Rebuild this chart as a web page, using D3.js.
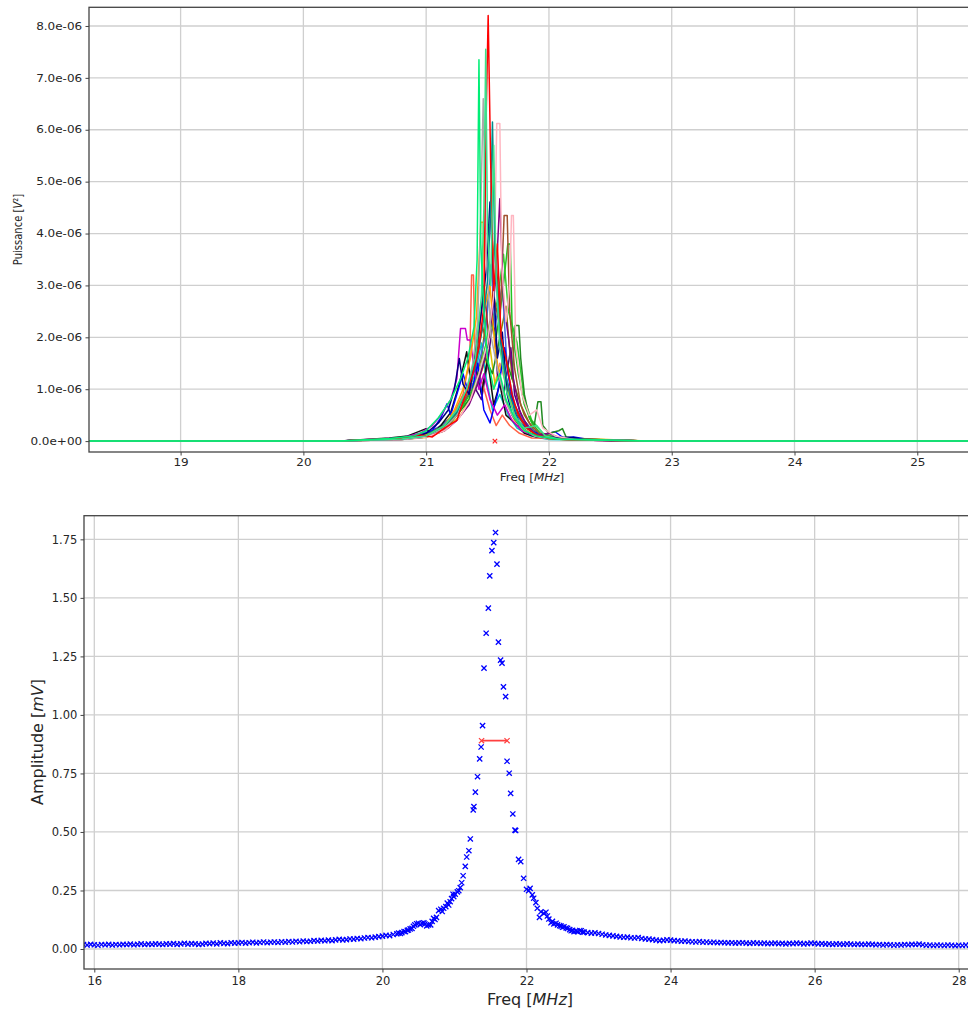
<!DOCTYPE html>
<html><head><meta charset="utf-8">
<script src="https://cdn.jsdelivr.net/npm/d3@7"></script>
<style>
body{margin:0;background:#fff}
svg{display:block}
text{font-family:"DejaVu Sans",sans-serif;fill:#262626}
</style>
</head><body>
<svg id="c" width="968" height="1009"></svg>
<script>
// ================= DATA =================
// ---- Top chart: power spectra (values in µV², i.e. ×1e-6 V²) ----
const topXTicks = [19, 20, 21, 22, 23, 24, 25];
const topYTicks = [0, 1e-6, 2e-6, 3e-6, 4e-6, 5e-6, 6e-6, 7e-6, 8e-6];
const topYTickLabels = ["0.0e+00","1.0e-06","2.0e-06","3.0e-06","4.0e-06","5.0e-06","6.0e-06","7.0e-06","8.0e-06"];

const specBlack = [[18.25,0],[20.3,0],[20.5,0.03],[20.7,0.06],[20.85,0.1],[21.0,0.24],[21.05,0.12],[21.12,0.3],[21.2,0.55],[21.27,1.1],[21.33,1.72],[21.36,1.2],[21.4,1.45],[21.45,0.9],[21.5,1.6],[21.55,0.7],[21.6,1.1],[21.65,0.5],[21.72,0.35],[21.8,0.15],[21.9,0.08],[22.05,0.04],[22.3,0.02],[22.8,0],[25.5,0]];
const specBlue = [[18.25,0],[20.3,0],[20.6,0.03],[20.8,0.05],[20.95,0.1],[21.05,0.2],[21.12,0.45],[21.17,0.72],[21.2,0.5],[21.25,0.9],[21.3,1.3],[21.36,0.8],[21.42,1.5],[21.47,0.6],[21.52,0.35],[21.58,0.9],[21.64,1.8],[21.68,1.1],[21.72,0.6],[21.76,0.35],[21.85,0.2],[21.95,0.12],[22.05,0.18],[22.12,0.06],[22.2,0.08],[22.35,0.02],[22.8,0],[25.5,0]];
const specNavy = [[18.25,0],[20.3,0],[20.7,0.04],[20.9,0.08],[21.0,0.15],[21.1,0.35],[21.18,0.6],[21.23,1.0],[21.27,1.59],[21.3,1.1],[21.35,0.9],[21.4,1.7],[21.45,2.5],[21.49,3.3],[21.52,4.61],[21.55,3.0],[21.58,1.6],[21.62,2.1],[21.66,0.9],[21.7,0.5],[21.76,0.3],[21.84,0.15],[21.95,0.08],[22.2,0.07],[22.3,0.02],[22.8,0],[25.5,0]];
const specPurple = [[18.25,0],[20.3,0],[20.8,0.03],[21.0,0.08],[21.15,0.2],[21.25,0.4],[21.35,0.7],[21.42,1.1],[21.48,1.6],[21.53,2.3],[21.57,3.2],[21.6,4.67],[21.63,2.7],[21.67,2.0],[21.71,1.2],[21.76,0.6],[21.82,0.3],[21.9,0.12],[22.0,0.15],[22.1,0.05],[22.4,0.01],[22.8,0],[25.5,0]];
const specMagenta = [[18.25,0],[20.3,0],[20.6,0.04],[20.8,0.06],[20.95,0.15],[21.05,0.3],[21.12,0.5],[21.2,0.8],[21.25,1.2],[21.28,2.17],[21.32,2.17],[21.335,1.95],[21.36,1.95],[21.39,1.4],[21.43,1.0],[21.47,1.3],[21.52,0.8],[21.58,0.5],[21.64,0.7],[21.7,0.4],[21.78,0.2],[21.88,0.1],[22.0,0.05],[22.15,0.04],[22.8,0],[25.5,0]];
const specBrown = [[18.25,0],[20.3,0],[20.8,0.04],[21.0,0.1],[21.15,0.25],[21.25,0.5],[21.33,0.9],[21.4,1.5],[21.46,2.2],[21.5,1.8],[21.55,2.8],[21.6,2.2],[21.635,4.35],[21.66,4.35],[21.68,2.5],[21.72,1.4],[21.77,0.7],[21.84,0.35],[21.92,0.15],[22.05,0.05],[22.8,0],[25.5,0]];
const specOrange = [[18.25,0],[20.3,0],[20.7,0.03],[20.9,0.06],[21.05,0.15],[21.15,0.3],[21.23,0.6],[21.3,1.0],[21.36,1.6],[21.41,2.4],[21.445,4.22],[21.465,4.22],[21.48,2.6],[21.52,3.0],[21.56,1.8],[21.6,1.2],[21.66,0.7],[21.72,0.4],[21.8,0.2],[21.9,0.1],[22.1,0.03],[22.8,0],[25.5,0]];
const specPink = [[18.25,0],[20.3,0],[20.8,0.03],[21.0,0.08],[21.15,0.2],[21.27,0.45],[21.36,0.8],[21.43,1.3],[21.5,1.9],[21.55,2.8],[21.575,6.12],[21.6,6.12],[21.615,3.4],[21.65,2.3],[21.68,3.0],[21.695,4.35],[21.71,4.35],[21.73,1.8],[21.78,0.9],[21.84,0.5],[21.9,0.6],[21.95,0.25],[22.05,0.1],[22.2,0.03],[22.8,0],[25.5,0]];
const specTeal = [[18.25,0],[20.3,0],[20.8,0.04],[21.0,0.1],[21.15,0.3],[21.25,0.55],[21.33,1.0],[21.4,1.4],[21.46,2.2],[21.5,3.1],[21.525,4.5],[21.54,6.15],[21.56,3.6],[21.59,2.4],[21.63,1.5],[21.68,0.9],[21.74,0.5],[21.82,0.25],[21.92,0.1],[22.05,0.04],[22.8,0],[25.5,0]];
const specGrey = [[18.25,0],[20.3,0],[20.8,0.04],[21.0,0.1],[21.15,0.25],[21.25,0.5],[21.32,0.9],[21.38,1.5],[21.42,2.3],[21.44,4.0],[21.465,6.6],[21.49,3.5],[21.53,2.0],[21.58,1.4],[21.64,0.8],[21.7,0.5],[21.78,0.25],[21.88,0.1],[22.0,0.04],[22.8,0],[25.5,0]];
const specDarkGreen = [[18.25,0],[20.3,0],[20.7,0.04],[20.9,0.07],[21.05,0.15],[21.15,0.3],[21.25,0.5],[21.35,0.8],[21.42,1.2],[21.48,1.6],[21.54,1.3],[21.6,2.0],[21.66,1.5],[21.7,1.2],[21.725,2.23],[21.755,2.23],[21.77,1.6],[21.8,0.9],[21.84,0.45],[21.88,0.3],[21.91,0.76],[21.935,0.76],[21.95,0.3],[22.0,0.15],[22.08,0.2],[22.11,0.24],[22.14,0.08],[22.25,0.04],[22.4,0.02],[22.8,0],[25.5,0]];
const specGreen = [[18.25,0],[20.3,0],[20.8,0.04],[21.0,0.12],[21.15,0.3],[21.28,0.6],[21.38,1.0],[21.46,1.5],[21.52,2.3],[21.57,2.0],[21.62,2.8],[21.665,3.8],[21.685,3.8],[21.7,2.2],[21.75,1.3],[21.8,0.7],[21.86,0.35],[21.93,0.15],[22.05,0.05],[22.8,0],[25.5,0]];
const specCyan = [[18.25,0],[20.3,0],[20.8,0.03],[21.0,0.08],[21.15,0.25],[21.25,0.6],[21.33,0.9],[21.4,1.3],[21.45,1.89],[21.49,1.2],[21.54,0.6],[21.6,0.9],[21.67,0.5],[21.74,0.25],[21.85,0.1],[22.0,0.03],[22.8,0],[25.5,0]];
const specTomato = [[18.25,0],[20.3,0],[20.8,0.04],[21.0,0.12],[21.12,0.25],[21.22,0.5],[21.3,0.9],[21.355,1.6],[21.37,3.2],[21.385,3.2],[21.4,1.5],[21.46,1.1],[21.52,0.6],[21.57,0.3],[21.62,0.5],[21.68,0.3],[21.76,0.15],[21.86,0.06],[22.8,0],[25.5,0]];
const specGold = [[18.25,0],[20.3,0],[20.8,0.03],[21.0,0.07],[21.15,0.2],[21.28,0.5],[21.38,0.9],[21.46,1.4],[21.52,1.8],[21.56,1.1],[21.62,1.5],[21.68,0.8],[21.74,0.4],[21.82,0.2],[21.92,0.08],[22.8,0],[25.5,0]];
const specIndigo = [[18.25,0],[20.3,0],[20.8,0.05],[21.0,0.12],[21.12,0.3],[21.2,0.45],[21.3,0.7],[21.38,1.1],[21.45,0.8],[21.5,1.5],[21.55,2.4],[21.58,1.3],[21.63,0.9],[21.69,1.8],[21.72,0.9],[21.78,0.45],[21.85,0.25],[21.92,0.15],[22.0,0.05],[22.2,0.02],[22.8,0],[25.5,0]];
const specSalmon = [[18.25,0],[20.3,0],[20.8,0.03],[21.0,0.1],[21.18,0.25],[21.3,0.55],[21.4,1.0],[21.48,1.6],[21.55,1.0],[21.6,1.5],[21.7,0.7],[21.78,0.35],[21.88,0.12],[22.0,0.04],[22.8,0],[25.5,0]];
const specRoyal = [[18.25,0],[20.3,0],[20.75,0.05],[20.95,0.14],[21.08,0.22],[21.2,0.45],[21.3,0.7],[21.4,1.2],[21.48,2.0],[21.53,3.4],[21.56,2.2],[21.62,3.0],[21.66,1.4],[21.72,0.7],[21.8,0.35],[21.9,0.15],[22.05,0.05],[22.8,0],[25.5,0]];
const specOlive = [[18.25,0],[20.3,0],[20.8,0.04],[21.0,0.1],[21.2,0.35],[21.35,0.8],[21.45,1.6],[21.5,2.6],[21.56,3.9],[21.6,2.0],[21.65,2.6],[21.7,1.2],[21.8,0.5],[21.88,0.2],[22.0,0.06],[22.8,0],[25.5,0]];
const specLime = [[18.25,0],[20.3,0],[20.85,0.05],[21.05,0.15],[21.2,0.4],[21.32,0.7],[21.4,1.0],[21.5,2.0],[21.58,2.7],[21.63,3.6],[21.67,2.5],[21.74,1.9],[21.8,0.8],[21.86,0.4],[21.95,0.15],[22.1,0.04],[22.8,0],[25.5,0]];
const specFirebrick = [[18.25,0],[20.3,0],[20.8,0.05],[21.0,0.12],[21.15,0.3],[21.27,0.6],[21.35,0.9],[21.42,1.8],[21.47,3.0],[21.51,2.0],[21.57,3.5],[21.62,1.5],[21.7,0.8],[21.78,0.4],[21.88,0.15],[22.0,0.05],[22.8,0],[25.5,0]];
const specRed = [[18.25,0],[20.3,0],[20.55,0.03],[20.8,0.05],[20.95,0.12],[21.05,0.08],[21.15,0.25],[21.25,0.4],[21.32,0.9],[21.38,1.3],[21.43,1.8],[21.47,2.6],[21.49,6.4],[21.505,8.2],[21.525,5.4],[21.55,2.9],[21.58,3.8],[21.61,2.0],[21.65,1.6],[21.7,0.9],[21.75,0.5],[21.82,0.25],[21.9,0.12],[22.0,0.05],[22.2,0.02],[22.8,0],[25.5,0]];
const specSpringB = [[18.25,0],[20.3,0],[20.8,0.04],[21.0,0.1],[21.15,0.3],[21.25,0.6],[21.33,1.0],[21.4,1.6],[21.45,2.8],[21.47,4.5],[21.485,7.55],[21.5,4.0],[21.525,3.0],[21.55,5.7],[21.57,3.2],[21.6,1.8],[21.65,1.0],[21.72,0.5],[21.8,0.25],[21.9,0.3],[21.97,0.1],[22.1,0.03],[22.8,0],[25.5,0]];
const specSpringA = [[18.25,0],[20.3,0],[20.7,0.05],[20.9,0.1],[21.0,0.2],[21.1,0.45],[21.2,0.8],[21.28,1.2],[21.34,1.6],[21.39,2.2],[21.415,3.5],[21.43,7.35],[21.445,3.8],[21.47,2.5],[21.5,1.6],[21.55,1.0],[21.6,1.3],[21.65,0.8],[21.72,0.45],[21.8,0.2],[21.9,0.1],[22.05,0.04],[22.8,0],[25.5,0]];

const spectra = [specSalmon, specGold, specIndigo, specCyan, specTomato, specOlive, specLime, specRoyal, specFirebrick, specBlack, specBlue, specMagenta, specDarkGreen, specGreen, specOrange, specBrown, specPurple, specNavy, specPink, specGrey, specTeal, specRed, specSpringB, specSpringA];
const spectraColors = ["#fa8072","#e0c000","#4b0082","#00c8c8","#ff6347","#808000","#32cd32","#4169e1","#b22222","#111111","#0000ff","#cc00cc","#228b22","#22c422","#ffa500","#a0522d","#800080","#000080","#ffb6c1","#a9a9a9","#008b8b","#ff0000","#3ce08a","#00ee76"];
const topPeakMarker = [21.56, 0];
const microUnit = 1e-6;

// ---- Bottom chart: amplitude vs frequency (mV) ----
const botXTicks = [16, 18, 20, 22, 24, 26, 28];
const botYTicks = [0, 0.25, 0.5, 0.75, 1.0, 1.25, 1.5, 1.75];
const botYTickLabels = ["0.00","0.25","0.50","0.75","1.00","1.25","1.50","1.75"];

// left tail: sweep from 15.85 MHz, step 0.05 MHz
const leftTailStart = 15.85, tailStep = 0.05;
const leftTailAmp = [
 0.019,0.017,0.020,0.018,0.016,0.019,0.018,0.020,0.017,0.019,0.018,
 0.020,0.019,0.021,0.018,0.020,0.022,0.019,0.021,0.020,0.022,0.021,0.019,
 0.022,0.021,0.023,0.020,0.022,0.024,0.021,0.023,0.022,0.020,
 0.021,0.024,0.023,0.025,0.022,0.026,0.024,0.023,0.027,0.025,
 0.026,0.028,0.025,0.027,0.029,0.026,0.028,0.030,0.027,0.029,
 0.030,0.028,0.031,0.029,0.032,0.030,0.033,0.031,0.034,0.032,
 0.033,0.036,0.034,0.037,0.035,0.038,0.036,0.039,0.041,0.039,
 0.040,0.043,0.042,0.045,0.044,0.047,0.049,0.048,0.051,0.053,
 0.055,0.058,0.057,0.062,0.065];
// resonance region
const peakFreq = [20.225,20.25,20.27,20.30,20.32,20.345,20.36,20.385,20.41,20.43,20.45,20.475,20.50,20.525,20.55,20.575,20.59,20.615,20.64,20.67,20.69,20.71,20.73,20.75,20.78,20.81,20.83,20.85,20.88,20.90,20.92,20.94,20.96,20.98,20.99,21.01,21.04,21.06,21.08,21.10,21.12,21.15,21.17,21.20,21.22,21.26,21.27,21.29,21.32,21.35,21.37,21.39,21.41,21.44,21.47,21.49,21.52,21.545,21.57,21.59,21.61,21.64,21.66,21.68,21.71,21.73,21.76,21.78,21.81,21.84,21.85,21.89,21.92,21.96,22.00,22.03,22.05,22.08,22.10,22.13,22.15,22.18,22.20,22.24,22.27,22.29,22.31,22.34,22.36,22.38,22.41,22.43,22.46,22.48,22.50,22.52,22.55,22.57,22.60,22.62,22.64,22.66,22.69,22.71,22.74,22.76,22.78];
const peakAmp = [0.068,0.066,0.070,0.075,0.074,0.080,0.081,0.086,0.088,0.097,0.103,0.108,0.110,0.104,0.110,0.112,0.107,0.099,0.103,0.103,0.118,0.131,0.126,0.135,0.164,0.170,0.160,0.174,0.181,0.196,0.188,0.202,0.215,0.234,0.224,0.234,0.244,0.249,0.262,0.283,0.313,0.353,0.393,0.420,0.470,0.594,0.608,0.670,0.736,0.812,0.863,0.954,1.200,1.349,1.456,1.594,1.702,1.736,1.779,1.644,1.311,1.234,1.221,1.120,1.078,0.802,0.751,0.665,0.577,0.508,0.506,0.383,0.373,0.302,0.255,0.249,0.259,0.231,0.217,0.198,0.174,0.135,0.159,0.152,0.157,0.141,0.128,0.112,0.118,0.107,0.110,0.103,0.100,0.098,0.093,0.095,0.090,0.088,0.083,0.078,0.080,0.074,0.076,0.074,0.079,0.078,0.072];
// right tail: sweep from 22.80 MHz, step 0.05 MHz
const rightTailStart = 22.80;
const rightTailAmp = [
 0.072,0.070,0.068,0.069,0.066,0.063,0.060,0.058,0.056,0.054,
 0.052,0.050,0.051,0.048,0.047,0.049,0.045,0.043,0.042,0.040,
 0.038,0.036,0.037,0.039,0.038,0.036,0.035,0.033,0.034,0.032,
 0.031,0.030,0.032,0.029,0.030,0.028,0.029,0.027,0.028,0.027,
 0.026,0.027,0.025,0.026,0.027,0.025,0.024,0.026,0.025,0.024,
 0.025,0.023,0.024,0.025,0.023,0.024,0.022,0.024,0.023,0.025,
 0.024,0.022,0.023,0.025,0.024,0.022,0.023,0.021,0.022,0.020,
 0.022,0.021,0.020,0.022,0.021,0.019,0.021,0.020,0.019,0.021,
 0.020,0.018,0.019,0.017,0.019,0.018,0.016,0.018,0.017,0.019,
 0.018,0.020,0.019,0.021,0.018,0.016,0.017,0.015,0.017,0.016,
 0.015,0.017,0.016,0.014,0.016,0.015,0.017,0.016,0.018,0.017];
const fwhmFreq = [21.376, 21.73];
const fwhmAmp = 0.89;

// ================= DRAW =================
const svg = d3.select("#c");
const GRID = "#cfcfcf", SPINE = "#444";
const stretch = 1.2; // horizontal stretch of the top panel's text

function xMark(g, x, y, s, color, w) {
  g.append("path").attr("d", `M${x-s},${y-s}L${x+s},${y+s}M${x-s},${y+s}L${x+s},${y-s}`)
   .attr("stroke", color).attr("stroke-width", w).attr("fill", "none");
}

// ---------- TOP PANEL ----------
const T = {l: 89, r: 975, t: 7.3, b: 452};
const xT = d3.scaleLinear().domain([18.254, 25.47]).range([T.l, T.r]);
const yT = d3.scaleLinear().domain([-0.21e-6, 8.36e-6]).range([T.b, T.t]);

svg.append("clipPath").attr("id", "clipT").append("rect")
  .attr("x", T.l).attr("y", T.t).attr("width", T.r - T.l).attr("height", T.b - T.t);

const gT = svg.append("g");
gT.selectAll(".gx").data(topXTicks).join("line")
  .attr("x1", d => xT(d)).attr("x2", d => xT(d)).attr("y1", T.t).attr("y2", T.b)
  .attr("stroke", GRID).attr("stroke-width", 1.3);
gT.selectAll(".gy").data(topYTicks).join("line")
  .attr("x1", T.l).attr("x2", T.r).attr("y1", d => yT(d)).attr("y2", d => yT(d))
  .attr("stroke", GRID).attr("stroke-width", 1.3);

const lineT = d3.line().x(d => xT(d[0])).y(d => yT(d[1] * microUnit));
const dataT = gT.append("g").attr("clip-path", "url(#clipT)");
spectra.forEach((s, i) => {
  dataT.append("path").attr("d", lineT(s)).attr("fill", "none")
    .attr("stroke", spectraColors[i]).attr("stroke-width", 1.5)
    .attr("stroke-linejoin", "round");
});
xMark(dataT, xT(topPeakMarker[0]), yT(topPeakMarker[1]), 2.2, "#ff2020", 1.2);

gT.append("rect").attr("x", T.l).attr("y", T.t).attr("width", T.r - T.l).attr("height", T.b - T.t)
  .attr("fill", "none").attr("stroke", SPINE).attr("stroke-width", 1.3);

const axYT = gT.append("g").attr("transform", `translate(${T.l},0)`)
  .call(d3.axisLeft(yT).tickValues(topYTicks).tickFormat((d, i) => topYTickLabels[i]).tickSize(3.5).tickPadding(2.2));
const axXT = gT.append("g").attr("transform", `translate(0,${T.b})`)
  .call(d3.axisBottom(xT).tickValues(topXTicks).tickFormat(d3.format("d")).tickSize(3.5).tickPadding(3));
[axYT, axXT].forEach(a => {
  a.select(".domain").remove();
  a.selectAll("line").attr("stroke", SPINE);
  a.selectAll("text").attr("font-size", 10).attr("font-family", "DejaVu Sans").attr("fill", "#262626")
    .attr("transform", `scale(${stretch},1)`);
});

const xlabT = svg.append("text").attr("transform", `translate(532,481) scale(${stretch},1)`)
  .attr("text-anchor", "middle").attr("font-size", 10);
xlabT.append("tspan").text("Freq [");
xlabT.append("tspan").attr("font-style", "italic").text("MHz");
xlabT.append("tspan").text("]");

const ylabT = svg.append("text").attr("transform", `translate(21.5,229.5) scale(${stretch},1) rotate(-90)`)
  .attr("text-anchor", "middle").attr("font-size", 10);
ylabT.append("tspan").text("Puissance [");
ylabT.append("tspan").attr("font-style", "italic").text("V");
ylabT.append("tspan").text("²]");

// ---------- BOTTOM PANEL ----------
const B = {l: 84, r: 976, t: 515.7, b: 969};
const xB = d3.scaleLinear().domain([15.857, 28.24]).range([B.l, B.r]);
const yB = d3.scaleLinear().domain([-0.0854, 1.851]).range([B.b, B.t]);

svg.append("clipPath").attr("id", "clipB").append("rect")
  .attr("x", B.l).attr("y", B.t).attr("width", B.r - B.l).attr("height", B.b - B.t);

const gB = svg.append("g");
gB.selectAll(".gx").data(botXTicks).join("line")
  .attr("x1", d => xB(d)).attr("x2", d => xB(d)).attr("y1", B.t).attr("y2", B.b)
  .attr("stroke", GRID).attr("stroke-width", 1.3);
gB.selectAll(".gy").data(botYTicks).join("line")
  .attr("x1", B.l).attr("x2", B.r).attr("y1", d => yB(d)).attr("y2", d => yB(d))
  .attr("stroke", GRID).attr("stroke-width", 1.3);

const pointsB = [];
leftTailAmp.forEach((a, i) => pointsB.push([leftTailStart + i * tailStep, a]));
peakFreq.forEach((f, i) => pointsB.push([f, peakAmp[i]]));
rightTailAmp.forEach((a, i) => pointsB.push([rightTailStart + i * tailStep, a]));

const dataB = gB.append("g").attr("clip-path", "url(#clipB)");
pointsB.forEach(p => xMark(dataB, xB(p[0]), yB(p[1]), 2.6, "#0000ff", 1.3));

// FWHM bar
dataB.append("line").attr("x1", xB(fwhmFreq[0])).attr("x2", xB(fwhmFreq[1]))
  .attr("y1", yB(fwhmAmp)).attr("y2", yB(fwhmAmp))
  .attr("stroke", "#ff4040").attr("stroke-width", 1.6);
fwhmFreq.forEach(f => xMark(dataB, xB(f), yB(fwhmAmp), 2.6, "#ff4040", 1.2));

gB.append("rect").attr("x", B.l).attr("y", B.t).attr("width", B.r - B.l).attr("height", B.b - B.t)
  .attr("fill", "none").attr("stroke", SPINE).attr("stroke-width", 1.3);

const axYB = gB.append("g").attr("transform", `translate(${B.l},0)`)
  .call(d3.axisLeft(yB).tickValues(botYTicks).tickFormat((d, i) => botYTickLabels[i]).tickSize(3.5).tickPadding(3.2));
const axXB = gB.append("g").attr("transform", `translate(0,${B.b})`)
  .call(d3.axisBottom(xB).tickValues(botXTicks).tickFormat(d3.format("d")).tickSize(3.5).tickPadding(4.2));
[axYB, axXB].forEach(a => {
  a.select(".domain").remove();
  a.selectAll("line").attr("stroke", SPINE);
  a.selectAll("text").attr("font-size", 11.5).attr("font-family", "DejaVu Sans").attr("fill", "#262626");
});

const xlabB = svg.append("text").attr("x", 530).attr("y", 1005)
  .attr("text-anchor", "middle").attr("font-size", 16);
xlabB.append("tspan").text("Freq [");
xlabB.append("tspan").attr("font-style", "italic").text("MHz");
xlabB.append("tspan").text("]");

const ylabB = svg.append("text").attr("transform", "translate(43,742) rotate(-90)")
  .attr("text-anchor", "middle").attr("font-size", 16);
ylabB.append("tspan").text("Amplitude [");
ylabB.append("tspan").attr("font-style", "italic").text("mV");
ylabB.append("tspan").text("]");
</script>
</body></html>
